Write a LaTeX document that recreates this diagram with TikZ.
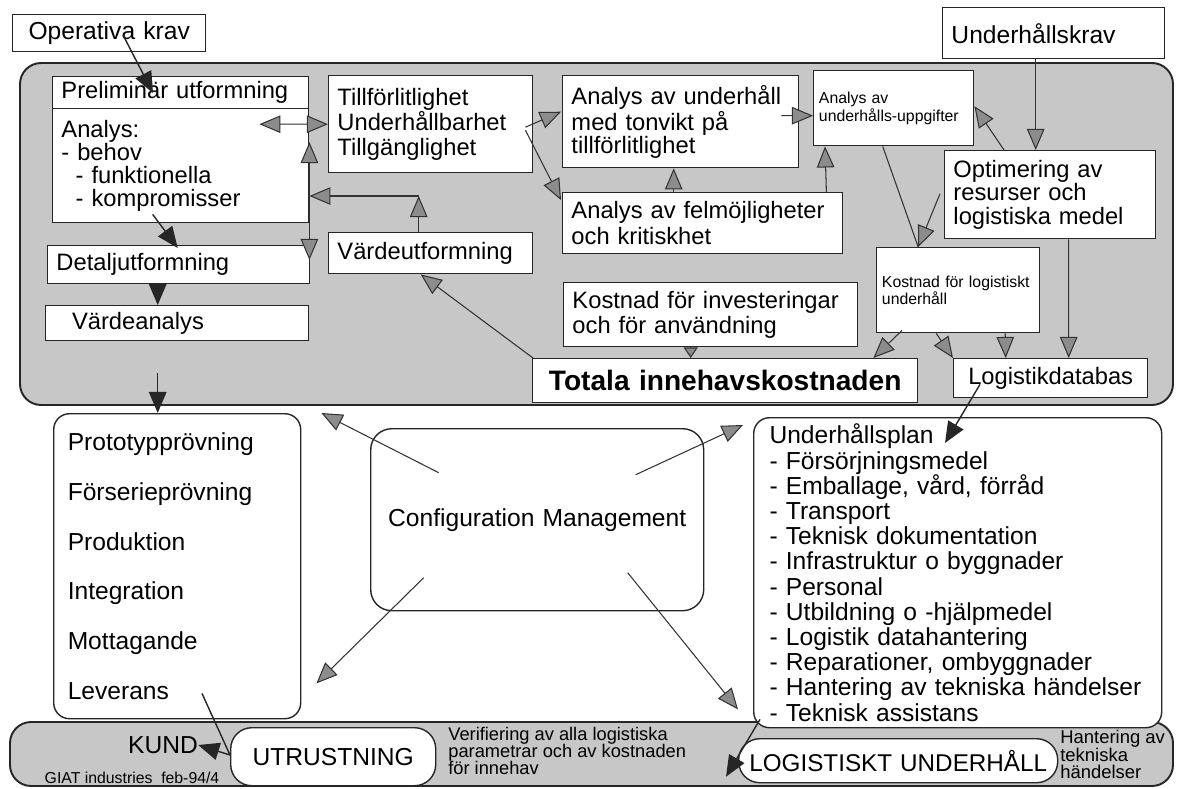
\documentclass[tikz,border=0pt]{standalone}
\usepackage{fontspec}
\setmainfont{Liberation Sans}
\usetikzlibrary{arrows.meta, calc}

\begin{document}
\begin{tikzpicture}[
    x=0.02cm, y=-0.02cm,
    blk/.style={rectangle, draw=black!85, line width=0.8pt, fill=white, inner xsep=5pt, inner ysep=0pt, anchor=north west, align=left, font=\fontsize{13.5}{14}\selectfont},
    sz/.style 2 args={text width=#1*0.02cm-2*\pgfkeysvalueof{/pgf/inner xsep}, minimum height=#2*0.02cm},
    sblk/.style={blk, inner xsep=3pt, font=\fontsize{9}{10}\selectfont},
    rblk/.style={blk, rounded corners=9pt, font=\fontsize{14}{14}\selectfont},
    txt/.style={inner sep=0pt, align=left, font=\fontsize{10.4}{9.9}\selectfont},
    panel/.style={draw=black!85, line width=1.1pt, fill=black!22, rounded corners=12pt},
    gline/.style={draw=black!80, line width=0.6pt},
    garr/.style={gline, -{Triangle[length=12pt, width=10pt, fill=black!45]}},
    sgarr/.style={gline, -{Triangle[length=6pt, width=8pt, fill=black!45]}},
    gboth/.style={gline, {Triangle[length=12pt, width=10pt, fill=black!45]}-{Triangle[length=12pt, width=10pt, fill=black!45]}},
    darr/.style={draw=black!85, line width=0.8pt, -{Triangle[length=12pt, width=10pt, fill=black!85]}},
]
\path[use as bounding box] (0,0) rectangle (1187,788);
\draw[panel] (20,63) rectangle (1173,405);
\draw[panel] (10,722) rectangle (1173,786);

\node[blk, sz={193}{37}, align=center, font=\fontsize{14}{14}\selectfont] (op) at (12,14) {Operativa krav};
\node[blk, sz={256}{32}] (prel) at (52,76) {Preliminär utformning};
\node[blk, sz={256}{114}, font=\fontsize{13.5}{13}\selectfont] (analys) at (52,108) {Analys:\\- behov\\\hspace*{0.6em}- funktionella\\\hspace*{0.6em}- kompromisser};
\node[blk, sz={262}{38}] (detalj) at (47,245) {Detaljutformning};
\node[blk, sz={263}{35}] (vanalys) at (45,305) {\hspace*{10pt}Värdeanalys};
\node[blk, sz={204}{97}, font=\fontsize{13.5}{14.2}\selectfont] (tf) at (328,75) {Tillförlitlighet\\Underhållbarhet\\Tillgänglighet};
\node[blk, sz={204}{41}] (vu) at (328,232) {Värdeutformning};
\node[blk, sz={236}{92}, font=\fontsize{13.5}{13}\selectfont] (auh) at (562,75) {Analys av underhåll\\med tonvikt på\\tillförlitlighet};
\node[blk, sz={280}{61}, font=\fontsize{13.5}{14.5}\selectfont] (afel) at (562,192) {Analys av felmöjligheter\\och kritiskhet};
\node[blk, sz={294}{64}] (kinv) at (563,282) {Kostnad för investeringar\\och för användning};
\node[blk, sz={385}{44}, align=center, font=\fontsize{16}{17}\selectfont\bfseries] (total) at (532,358) {Totala innehavskostnaden};
\node[sblk, sz={160}{75}] (auu) at (813,70) {Analys av\\underhålls-uppgifter};
\node[blk, sz={222}{51}, font=\fontsize{14}{14}\selectfont] (uhk) at (942,7) {Underhållskrav};
\node[blk, sz={211}{88}, font=\fontsize{13.5}{13.2}\selectfont] (opt) at (944,150) {Optimering av\\resurser och\\logistiska medel};
\node[sblk, sz={163}{85}] (klog) at (876,247) {Kostnad för logistiskt\\underhåll};
\node[blk, sz={194}{39}, align=center] (ldb) at (953,358) {Logistikdatabas};

\node[rblk, sz={247}{305}, inner xsep=8pt, font=\fontsize{14}{28.4}\selectfont] (proto) at (53,413) {Prototypprövning\\Förserieprövning\\Produktion\\Integration\\Mottagande\\Leverans};
\node[rblk, sz={333}{182}, align=center, rounded corners=12pt] (cm) at (370,428) {Configuration Management};
\node[rblk, sz={408}{310}, inner xsep=9pt, font=\fontsize{14}{14.35}\selectfont] (uhp) at (753,417) {Underhållsplan\\- Försörjningsmedel\\- Emballage, vård, förråd\\- Transport\\- Teknisk dokumentation\\- Infrastruktur o byggnader\\- Personal\\- Utbildning o -hjälpmedel\\- Logistik datahantering\\- Reparationer, ombyggnader\\- Hantering av tekniska händelser\\- Teknisk assistans};

\node[txt, font=\fontsize{14}{14}\selectfont] (kund) at (163,745) {KUND};
\node[txt, font=\fontsize{9}{9}\selectfont] (giat) at (132,778) {GIAT industries~~feb-94/4};
\node[rblk, sz={205}{58}, align=center, rounded corners=12pt] (utr) at (230,727) {UTRUSTNING};
\node[txt, anchor=west] (verif) at (448,751) {Verifiering av alla logistiska\\parametrar och av kostnaden\\för innehav};
\node[rblk, sz={319}{44}, align=center, inner xsep=2pt, rounded corners=12pt, font=\fontsize{13.8}{14}\selectfont] (lu) at (738,738) {LOGISTISKT UNDERHÅLL};
\node[txt, anchor=west, font=\fontsize{10.5}{9.2}\selectfont] (hant) at (1060,754) {Hantering av\\tekniska\\händelser};

\draw[darr] ($(op.south)+(14,-17)$) -- ($(prel.north west)+(101,17)$);
\draw[gboth] ($(analys.east)+(-50,-41.5)$) -- (tf.west);
\draw[gboth] ($(detalj.north east)+(-1,15)$) -- ($(analys.north east)+(0,34)$);
\coordinate (vuc) at ($(vu.north)+(-12,-36)$);
\draw[garr] ($(vu.north)+(-12,0)$) -- (vuc);
\draw[garr] (vuc) -- (vuc -| analys.east);
\draw[garr] ($(tf.east)+(-8,3)$) -- ($(auh.west)+(-1,-10)$);
\draw[garr] ($(tf.east)+(-8,6)$) -- ($(afel.north west)+(-1,8)$);
\draw[garr] ($(afel.north)+(-29,0)$) -- ($(auh.south)+(-7,0)$);
\draw[garr] ($(auh.east)+(-18,-6)$) -- ($(auu.west)+(0,7.5)$);
\draw[garr] ($(afel.north east)+(-17,0)$) -- ($(auu.south west)+(12,0)$);
\draw[garr] ($(opt.north west)+(60,0)$) -- ($(auu.east)+(0,-2)$);
\draw[garr] ($(uhk.south)+(-18,0)$) -- ($(opt.north)+(-14.5,0)$);
\draw[gline] ($(auu.south)+(-11,0)$) -- ($(klog.north)+(-40,0)$);
\draw[garr] ($(opt.west)+(-4,-1)$) -- ($(klog.north)+(-40,0)$);
\draw[garr] ($(opt.south)+(18.5,0)$) -- ($(ldb.north)+(18,0)$);
\draw[garr] ($(klog.south)+(-22,0)$) -- (ldb.north west);
\draw[garr] ($(klog.south)+(47,0)$) -- ($(ldb.north)+(-45,0)$);
\draw[garr] ($(klog.south west)+(26,-3)$) -- ($(total.north east)+(-45,0)$);
\draw[sgarr] ($(kinv.south)+(-20,0)$) -- ($(total.north)+(-34.5,0)$);
\draw[garr] ($(total.north west)+(1,0)$) -- ($(vu.south)+(-10,0)$);
\draw[darr] ($(analys.south)+(-28,-9)$) -- ($(detalj.north)+(-1,3)$);
\draw[darr] ($(detalj.south)+(-21,0)$) -- ($(vanalys.north)+(-19.5,0)$);
\draw[darr] ($(vanalys.south)+(-19.5,32)$) -- ($(proto.north)+(-19.5,0)$);
\draw[garr] ($(cm.center)+(-98.5,-47)$) -- ($(proto.north east)+(20,0)$);
\draw[garr] ($(cm.center)+(98.5,-45)$) -- ($(uhp.north west)+(-10,8)$);
\draw[garr] ($(cm.center)+(-113.5,58)$) -- ($(proto.south east)+(15,-36)$);
\draw[garr] ($(cm.center)+(90.5,53)$) -- ($(uhp.south west)+(-15,-19)$);
\draw[darr] ($(ldb.south west)+(27,-14)$) -- ($(uhp.north west)+(192,26)$);
\draw[darr] ($(proto.south west)+(149,-26)$) -- ($(utr.north west)+(0,28)$) -- (kund.east);
\draw[darr] ($(uhp.south west)+(7,-9)$) -- ($(lu.west)+(-12,16)$);
\end{tikzpicture}
\end{document}
